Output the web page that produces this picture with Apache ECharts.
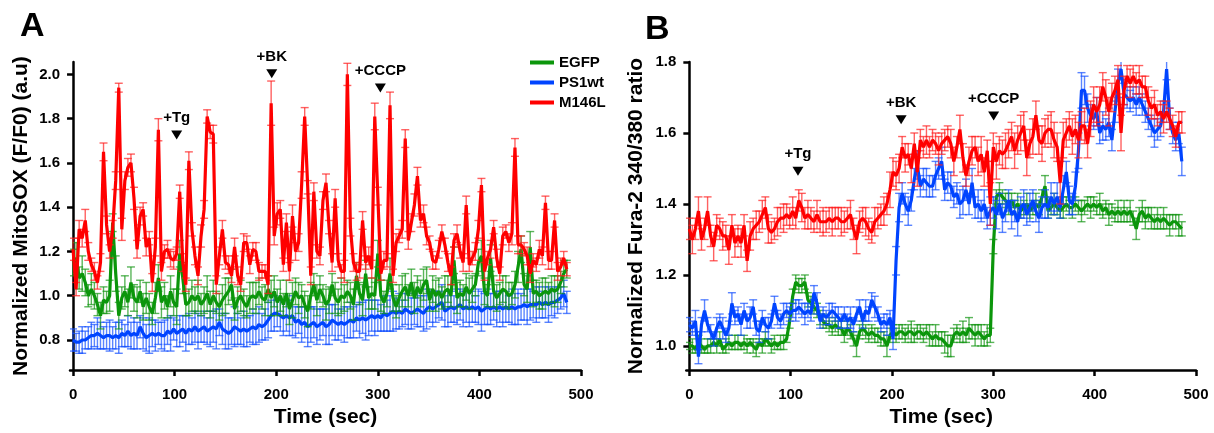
<!DOCTYPE html>
<html><head><meta charset="utf-8">
<script src="https://cdn.jsdelivr.net/npm/echarts@6/dist/echarts.min.js"></script>
<style>html,body{margin:0;padding:0;background:#fff}#c{width:1214px;height:433px}</style>
</head><body><div id="c"></div>
<script>
// ---------- DATA ----------
const T_START = 0, T_STEP = 3; // seconds, sampling of every trace
const SERIES_NAMES = ['EGFP', 'PS1wt', 'M146L'];
const X_TICKS = [0, 100, 200, 300, 400, 500];
const Y_TICKS_A = [0.8, 1.0, 1.2, 1.4, 1.6, 1.8, 2.0];
const Y_TICKS_B = [1.0, 1.2, 1.4, 1.6, 1.8];

// Panel A: Normalized MitoSOX (F/F0)
const RED_A = [
1.21,1.03,1.30,1.26,1.34,1.20,1.14,1.11,1.06,1.15,
1.65,1.32,1.20,1.30,1.52,1.94,1.30,1.52,1.58,1.60,
1.44,1.21,1.36,1.39,1.22,1.26,1.06,1.22,1.75,1.11,
1.20,1.21,1.17,1.16,1.19,1.47,1.15,1.05,1.61,1.30,
1.18,1.09,1.27,1.39,1.81,1.74,1.73,1.05,1.18,1.30,
1.15,1.14,1.09,1.22,1.09,1.05,1.24,1.24,1.14,1.21,
1.20,1.11,1.11,1.11,1.05,1.87,1.27,1.37,1.39,1.14,
1.33,1.11,1.36,1.20,1.24,1.50,1.81,1.49,1.09,1.47,
1.20,1.18,1.43,1.51,1.31,1.15,1.44,1.16,1.11,1.11,
2.00,1.31,1.15,1.11,1.11,1.34,1.15,1.18,1.12,1.81,
1.45,1.10,1.16,1.16,1.86,1.09,1.24,1.27,1.30,1.71,
1.25,1.33,1.41,1.54,1.34,1.37,1.27,1.24,1.16,1.15,
1.21,1.29,1.23,1.15,1.09,1.25,1.28,1.20,1.15,1.41,
1.14,1.17,1.20,1.30,1.50,1.11,1.17,1.21,1.31,1.17,
1.10,1.27,1.29,1.24,1.28,1.67,1.23,1.23,1.21,1.18,
1.10,1.16,1.14,1.21,1.18,1.42,1.16,1.16,1.34,1.11,
1.13,1.17,1.12];
const GREEN_A = [
1.15,1.17,1.08,1.10,1.06,1.00,1.03,1.00,0.96,0.91,
0.98,0.97,1.00,1.33,1.10,0.91,0.99,1.02,0.97,1.06,
0.99,0.97,1.02,0.95,0.99,0.95,0.92,0.99,1.08,0.97,
1.00,0.95,1.02,0.97,0.95,1.19,1.08,0.96,0.97,1.00,
0.98,1.00,0.96,0.98,1.01,0.96,1.00,0.97,0.95,0.98,
1.00,1.02,1.05,0.94,0.98,1.00,0.97,0.95,0.99,1.00,
0.99,1.02,0.99,0.98,1.03,0.99,1.02,0.97,1.00,0.96,
1.01,0.94,0.98,1.02,0.99,1.00,0.96,0.93,1.00,1.05,
0.98,1.03,1.00,0.96,0.98,1.05,0.99,0.97,1.00,0.99,
1.02,1.00,0.96,1.09,1.01,0.98,1.10,0.99,1.01,1.00,
1.19,1.00,0.97,1.01,1.10,0.99,0.95,0.99,1.02,1.04,
1.00,1.06,0.99,1.04,1.01,1.05,1.07,0.98,1.03,1.00,
1.02,0.99,1.02,1.03,1.00,1.16,0.99,1.01,1.00,1.04,
1.01,1.03,1.05,1.15,1.18,1.02,1.00,1.17,1.02,0.99,
1.01,1.03,1.02,1.00,1.01,1.05,1.13,1.21,1.05,1.03,
1.22,1.01,1.02,1.00,1.01,1.02,1.01,1.03,1.02,1.03,
1.06,1.10,1.12];
const BLUE_A = [
0.80,0.79,0.79,0.80,0.80,0.81,0.82,0.82,0.83,0.82,
0.81,0.82,0.82,0.81,0.82,0.81,0.83,0.82,0.84,0.82,
0.83,0.82,0.86,0.83,0.81,0.82,0.83,0.82,0.83,0.82,
0.82,0.84,0.83,0.85,0.83,0.84,0.85,0.83,0.85,0.84,
0.86,0.84,0.85,0.86,0.84,0.85,0.86,0.85,0.88,0.85,
0.84,0.83,0.84,0.86,0.85,0.84,0.85,0.84,0.85,0.86,
0.85,0.87,0.86,0.87,0.89,0.91,0.92,0.92,0.91,0.90,
0.91,0.90,0.91,0.88,0.89,0.87,0.88,0.86,0.87,0.88,
0.86,0.87,0.88,0.86,0.87,0.89,0.88,0.87,0.88,0.87,
0.88,0.89,0.88,0.90,0.89,0.90,0.89,0.90,0.91,0.90,
0.91,0.90,0.92,0.91,0.92,0.93,0.92,0.93,0.92,0.94,
0.93,0.92,0.93,0.94,0.93,0.92,0.94,0.95,0.94,0.95,
0.96,0.97,0.93,0.94,0.95,0.94,0.95,0.96,0.94,0.95,
0.94,0.95,0.94,0.95,0.93,0.94,0.95,0.94,0.95,0.94,
0.95,0.94,0.95,0.94,0.95,0.94,0.95,0.95,0.96,0.95,
0.96,0.96,0.96,0.97,0.96,0.97,0.96,0.97,0.97,0.98,
0.99,1.01,0.97];
// SEM, in hundredths
const ERR_RED_A = [
5,3,4,4,5,4,3,4,3,4, 4,4,3,4,4,2,5,4,4,4, 5,4,4,3,4,3,4,4,5,4, 3,4,4,4,3,3,4,3,4,3,
4,4,5,4,3,3,4,4,4,4, 3,4,3,4,4,3,4,3,4,3, 4,4,3,3,4,10,4,5,4,3, 4,4,5,4,4,6,4,3,4,4,
3,4,4,4,3,4,4,3,3,5, 5,4,4,4,3,4,3,4,4,6, 4,3,4,3,6,3,4,3,4,4, 4,4,5,4,3,4,4,3,4,3,
4,3,3,4,4,3,4,3,4,4, 3,3,4,4,3,4,3,4,3,4, 3,4,3,4,5,4,4,4,3,4, 4,3,3,4,4,3,4,4,3,4,
4,3,3];
const ERR_GREEN_A = [
6,7,5,8,6,5,7,6,5,6, 6,5,7,4,8,6,5,7,6,7, 6,7,5,6,7,6,5,7,6,7, 6,5,7,6,8,6,7,5,6,7,
6,7,5,6,8,6,7,5,6,7, 8,6,7,5,6,7,6,5,7,6, 7,6,5,7,6,8,7,6,7,5, 6,7,8,6,7,5,6,7,6,5,
7,6,5,7,6,5,7,6,8,6, 5,6,7,6,5,7,6,5,7,6, 6,7,5,6,7,6,5,6,7,6, 5,6,7,5,6,7,6,5,6,7,
6,5,7,6,5,6,7,6,5,6, 7,6,5,6,7,6,5,6,7,6, 5,6,7,6,5,6,7,6,5,6, 7,6,5,6,7,6,5,6,7,6,
5,6,4];
const ERR_BLUE_A = [
5,4,5,6,4,5,6,5,7,6, 5,6,7,5,6,7,6,5,7,6, 7,6,5,7,6,8,6,7,5,6, 7,6,8,5,6,7,6,8,7,6,
7,8,6,7,6,8,7,9,6,7, 8,7,6,9,7,6,8,7,6,8, 7,8,6,7,8,7,8,6,7,8, 7,8,9,7,6,8,7,9,8,7,
8,7,6,8,9,7,8,7,6,8, 7,8,7,6,8,7,9,8,7,8, 7,6,8,7,8,9,7,8,6,7, 8,7,6,8,7,8,9,7,8,7,
6,8,7,8,7,6,8,7,8,7, 8,7,6,8,9,7,8,7,6,8, 7,8,7,6,8,7,8,6,7,8, 7,6,8,7,6,7,8,6,7,6,
5,6,5];

// Panel B: Normalized Fura-2 340/380 ratio
const RED_B = [
1.33,1.30,1.33,1.38,1.30,1.33,1.38,1.31,1.28,1.34,
1.33,1.31,1.31,1.27,1.34,1.29,1.31,1.29,1.34,1.24,
1.31,1.33,1.34,1.35,1.37,1.39,1.33,1.32,1.33,1.35,
1.36,1.36,1.37,1.36,1.38,1.36,1.41,1.39,1.36,1.37,
1.36,1.35,1.37,1.35,1.35,1.35,1.36,1.35,1.36,1.36,
1.35,1.35,1.36,1.37,1.33,1.30,1.35,1.36,1.35,1.33,
1.32,1.35,1.36,1.37,1.38,1.40,1.44,1.49,1.48,1.50,
1.56,1.53,1.54,1.50,1.57,1.49,1.58,1.56,1.58,1.56,
1.58,1.57,1.55,1.57,1.58,1.59,1.57,1.52,1.56,1.61,
1.53,1.48,1.52,1.55,1.56,1.52,1.54,1.49,1.55,1.40,
1.56,1.52,1.55,1.54,1.55,1.57,1.59,1.55,1.58,1.60,
1.62,1.53,1.57,1.59,1.65,1.58,1.57,1.60,1.61,1.61,
1.58,1.56,1.46,1.58,1.60,1.62,1.59,1.61,1.58,1.62,
1.62,1.57,1.64,1.68,1.66,1.68,1.73,1.70,1.66,1.70,
1.72,1.75,1.60,1.72,1.76,1.74,1.76,1.74,1.75,1.73,
1.73,1.69,1.67,1.68,1.65,1.66,1.64,1.66,1.64,1.62,
1.59,1.63,1.63];
const BLUE_B = [
1.06,1.05,1.07,0.97,1.06,1.10,1.06,1.04,1.02,1.05,
1.07,1.05,1.03,1.05,1.12,1.08,1.09,1.06,1.10,1.07,
1.08,1.11,1.05,1.04,1.08,1.06,1.05,1.07,1.12,1.08,
1.07,1.09,1.10,1.09,1.10,1.10,1.11,1.10,1.09,1.10,
1.09,1.15,1.12,1.07,1.09,1.08,1.09,1.10,1.09,1.08,
1.07,1.09,1.07,1.08,1.06,1.09,1.11,1.07,1.10,1.09,
1.13,1.11,1.09,1.06,1.07,1.06,1.08,1.02,1.24,1.39,
1.43,1.40,1.38,1.41,1.47,1.51,1.45,1.47,1.46,1.45,
1.45,1.48,1.50,1.52,1.44,1.46,1.45,1.42,1.43,1.40,
1.41,1.44,1.40,1.46,1.39,1.40,1.38,1.40,1.36,1.38,
1.39,1.37,1.40,1.36,1.38,1.41,1.37,1.38,1.35,1.39,
1.40,1.37,1.39,1.41,1.38,1.36,1.39,1.40,1.39,1.42,
1.40,1.42,1.39,1.44,1.49,1.41,1.40,1.45,1.55,1.72,
1.72,1.67,1.65,1.64,1.66,1.60,1.62,1.61,1.63,1.58,
1.66,1.74,1.78,1.71,1.70,1.69,1.70,1.68,1.70,1.68,
1.66,1.64,1.62,1.60,1.61,1.62,1.66,1.78,1.64,1.60,
1.58,1.60,1.52];
const GREEN_B = [
1.00,1.00,0.99,1.01,1.00,0.99,1.00,1.00,1.01,1.00,
1.02,0.99,1.00,1.01,1.00,1.01,1.01,1.00,1.01,1.00,
1.01,1.00,0.99,1.01,1.00,1.02,1.01,1.00,1.01,1.00,
1.01,1.01,1.02,1.07,1.14,1.18,1.17,1.17,1.18,1.13,
1.12,1.11,1.10,1.08,1.07,1.06,1.06,1.05,1.06,1.05,
1.05,1.03,1.05,1.04,1.02,1.00,1.04,1.05,1.04,1.03,
1.04,1.03,1.03,1.02,1.02,1.00,1.03,1.04,1.03,1.04,
1.04,1.03,1.04,1.04,1.03,1.04,1.04,1.03,1.04,1.03,
1.02,1.03,1.02,1.02,1.01,1.00,1.00,1.03,1.04,1.03,
1.04,1.03,1.05,1.04,1.03,1.04,1.03,1.02,1.03,1.03,
1.28,1.42,1.43,1.42,1.41,1.40,1.41,1.39,1.40,1.38,
1.39,1.40,1.38,1.39,1.40,1.39,1.42,1.45,1.38,1.39,
1.40,1.39,1.38,1.39,1.40,1.39,1.39,1.40,1.39,1.38,
1.39,1.40,1.39,1.40,1.39,1.40,1.38,1.39,1.37,1.38,
1.37,1.38,1.37,1.38,1.37,1.38,1.36,1.33,1.37,1.38,
1.36,1.37,1.36,1.35,1.36,1.35,1.36,1.35,1.34,1.35,
1.35,1.34,1.33];
const ERR_RED_B = [
3,4,3,4,3,3,4,3,4,3, 3,4,3,4,3,4,3,4,3,3, 4,3,4,3,4,3,4,3,3,4, 3,4,3,3,4,3,3,4,3,4,
3,3,4,3,4,3,3,4,3,3, 4,3,3,4,3,4,3,3,4,3, 3,4,3,3,4,3,5,4,4,4, 3,4,3,4,3,4,3,3,4,3,
3,3,4,3,3,3,4,4,3,4, 4,3,4,4,3,4,5,4,3,6, 4,5,4,4,5,4,4,5,4,5, 4,5,4,5,4,4,5,4,4,5,
5,4,6,5,4,4,5,4,5,4, 5,4,5,5,4,5,4,5,4,4, 4,4,5,4,3,4,3,3,4,3, 3,4,3,4,3,3,4,3,3,3,
3,3,3];
const ERR_BLUE_B = [
2,2,3,2,2,3,2,2,2,3, 2,3,2,2,3,2,2,3,2,2, 3,2,2,3,2,2,3,2,2,2, 2,3,2,2,2,3,2,2,3,2,
2,2,3,2,2,2,3,2,2,3, 2,2,2,3,2,2,2,2,3,2, 2,3,2,2,2,3,2,3,4,4, 3,3,4,3,3,4,3,3,4,3,
3,4,3,4,3,3,4,3,3,4, 4,3,3,4,3,4,3,4,3,4, 3,4,3,4,3,3,4,3,4,3, 4,3,4,3,3,4,3,4,3,4,
3,4,3,4,3,4,3,4,5,5, 4,4,3,3,4,3,4,3,4,3, 3,4,3,3,3,3,3,3,3,3, 3,3,3,4,3,3,3,3,3,3,
3,3,4];
const ERR_GREEN_B = [
1,2,1,2,2,1,2,2,1,2, 2,1,2,2,1,2,2,1,2,2, 1,2,2,1,2,2,1,2,2,1, 2,2,1,2,2,2,2,2,2,2,
2,2,2,2,2,1,2,2,2,2, 2,2,2,2,2,3,2,2,2,2, 2,2,2,2,2,3,2,2,2,2, 2,2,2,3,2,2,2,2,2,3,
2,3,2,2,3,3,3,2,2,2, 3,2,3,2,3,2,3,2,3,2, 2,2,3,2,2,3,2,2,3,2, 2,3,2,2,3,2,2,3,2,2,
3,2,2,3,2,2,3,2,2,3, 2,2,3,2,2,3,2,2,3,2, 2,3,2,3,2,3,2,3,2,3, 3,2,3,2,3,2,3,2,3,2,
2,3,2];

// Treatment annotations (time, marker level)
const EVENTS_A = [['+Tg', 102, 1.726], ['+BK', 195.6, 2.003], ['+CCCP', 302.5, 1.938]];
const EVENTS_B = [['+Tg', 107.2, 1.492], ['+BK', 209, 1.6375], ['+CCCP', 300.3, 1.648]];

// ---------- CHART ----------
const TIME = RED_A.map((_, i) => T_START + i * T_STEP);
const FONT = "'Liberation Sans', Arial, sans-serif";
const COL = { EGFP: '#0b960b', PS1wt: '#0044ff', M146L: '#ff0000' };
const ECOL = { EGFP: 'rgba(20,150,20,0.7)', PS1wt: 'rgba(20,80,255,0.7)', M146L: 'rgba(255,30,30,0.7)' };

function errRender(color) {
  return function (params, api) {
    const x = api.value(0);
    const lo = api.coord([x, api.value(1)]);
    const hi = api.coord([x, api.value(2)]);
    const h = 4, st = { stroke: color, lineWidth: 1.4 };
    return { type: 'group', children: [
      { type: 'line', shape: { x1: lo[0], y1: lo[1], x2: hi[0], y2: hi[1] }, style: st },
      { type: 'line', shape: { x1: lo[0] - h, y1: lo[1], x2: lo[0] + h, y2: lo[1] }, style: st },
      { type: 'line', shape: { x1: hi[0] - h, y1: hi[1], x2: hi[0] + h, y2: hi[1] }, style: st }
    ]};
  };
}
let zc = 1;
function trace(name, vals, errs, idx) {
  const e = { type: 'custom', name, xAxisIndex: idx, yAxisIndex: idx, clip: true, silent: true, z: zc++,
    data: vals.map((v, i) => [TIME[i], v - errs[i] / 100, v + errs[i] / 100]),
    encode: { x: 0, y: [1, 2] }, renderItem: errRender(ECOL[name]), itemStyle: { color: COL[name] } };
  const l = { type: 'line', name, xAxisIndex: idx, yAxisIndex: idx, z: zc++, showSymbol: false, silent: true,
    data: vals.map((v, i) => [TIME[i], v]), lineStyle: { width: 3.2, color: COL[name] }, itemStyle: { color: COL[name] } };
  return [e, l];
}
function events(list, idx) {
  return { type: 'scatter', xAxisIndex: idx, yAxisIndex: idx, z: 50, silent: true, clip: false,
    symbol: 'triangle', symbolRotate: 180, symbolSize: [11, 9], itemStyle: { color: '#000', opacity: 1 },
    data: list.map(e => [e[1], e[2], e[0]]),
    label: { show: true, position: 'top', distance: 5, formatter: p => p.value[2], opacity: 1,
      fontFamily: FONT, fontWeight: 'bold', fontSize: 15, color: '#000' } };
}
const axisCommon = {
  axisLine: { show: true, lineStyle: { color: '#000', width: 2.5 } },
  axisTick: { show: true, length: 6, lineStyle: { color: '#000', width: 2.5 } },
  splitLine: { show: false },
  nameTextStyle: { fontFamily: FONT, fontWeight: 'bold', fontSize: 21, color: '#000' }
};
function xAx(idx) {
  return Object.assign({}, axisCommon, { type: 'value', gridIndex: idx, min: -3, max: 500,
    name: 'Time (sec)', nameLocation: 'middle', nameGap: 32,
    axisTick: Object.assign({}, axisCommon.axisTick, { customValues: X_TICKS }),
    axisLabel: { customValues: X_TICKS, margin: 17, fontFamily: FONT, fontWeight: 'bold', fontSize: 15, color: '#000' } });
}
function yAx(idx, min, max, ticks, name, gap) {
  return Object.assign({}, axisCommon, { type: 'value', gridIndex: idx, min, max,
    name, nameLocation: 'middle', nameGap: gap,
    axisTick: Object.assign({}, axisCommon.axisTick, { customValues: ticks }),
    axisLabel: { customValues: ticks, margin: 10, formatter: v => v.toFixed(1),
      fontFamily: FONT, fontWeight: 'bold', fontSize: 15, color: '#000' } });
}

const series = [].concat(
  trace('PS1wt', BLUE_A, ERR_BLUE_A, 0), trace('EGFP', GREEN_A, ERR_GREEN_A, 0), trace('M146L', RED_A, ERR_RED_A, 0),
  trace('EGFP', GREEN_B, ERR_GREEN_B, 1), trace('PS1wt', BLUE_B, ERR_BLUE_B, 1), trace('M146L', RED_B, ERR_RED_B, 1),
  [events(EVENTS_A, 0), events(EVENTS_B, 1)]
);

const chart = echarts.init(document.getElementById('c'), null, { renderer: 'canvas' });
chart.setOption({
  animation: false,
  backgroundColor: '#fff',
  grid: [
    { left: 70, top: 62, width: 511, height: 314.7 },
    { left: 686.3, top: 62, width: 509.7, height: 314.7 }
  ],
  xAxis: [xAx(0), xAx(1)],
  yAxis: [
    yAx(0, 0.664, 2.056, Y_TICKS_A, 'Normalized MitoSOX (F/F0) (a.u)', 38),
    yAx(1, 0.932, 1.8, Y_TICKS_B, 'Normalized Fura-2 340/380 ratio', 40)
  ],
  legend: { data: SERIES_NAMES, orient: 'vertical', left: 525, top: 50, icon: 'rect',
    itemWidth: 24, itemHeight: 4, itemGap: 5, selectedMode: false,
    textStyle: { fontFamily: FONT, fontWeight: 'bold', fontSize: 15, color: '#000' } },
  graphic: [
    { type: 'text', left: 20, top: 10, style: { text: 'A', font: "bold 34px 'Liberation Sans', Arial, sans-serif", fill: '#000' } },
    { type: 'text', left: 645, top: 13, style: { text: 'B', font: "bold 34px 'Liberation Sans', Arial, sans-serif", fill: '#000' } }
  ],
  series
});
</script></body></html>
